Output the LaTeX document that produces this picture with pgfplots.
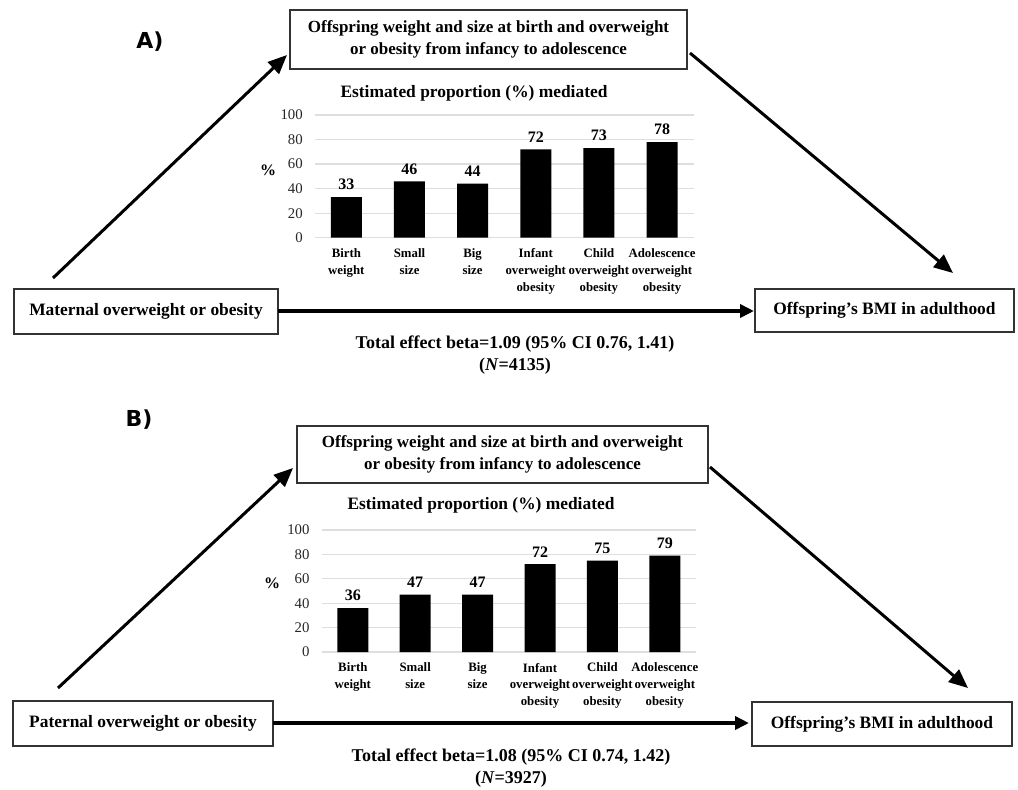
\documentclass[border=0pt]{standalone}
\usepackage{fontspec}
\setmainfont{Liberation Serif}
\newfontfamily\panelfont{DejaVu Sans}
\usepackage{pgfplots}
\pgfplotsset{compat=1.18}
\usetikzlibrary{arrows.meta}
\newcommand{\fs}[2]{\fontsize{#1}{#2}\selectfont}
\pgfplotsset{medchart/.style={
  scale only axis, anchor=south west,
  ymin=0, ymax=100, ytick={0,20,...,100},
  xmin=-0.5, xmax=5.5, xtick={0,...,5},
  xticklabels={{Birth\\weight},{Small\\size},{Big\\size},{Infant\\overweight\\obesity},{Child\\overweight\\obesity},{Adolescence\\overweight\\obesity}},
  axis line style={draw=none},
  ymajorgrids, grid style={draw=black!13, line width=0.6pt},
  major tick length=0pt,
  /pgf/number format/assume math mode=true,
  yticklabel style={font=\fs{7.4}{8}, text=black!85, xshift=-2.5pt},
  xticklabel style={font=\bfseries\fs{6.4}{8.4}, align=center, anchor=north, yshift=-2pt},
  ybar, bar width=15.5pt,
  nodes near coords, nodes near coords style={font=\bfseries\fs{8}{9}},
  clip=false,
}}
\begin{document}
\begin{tikzpicture}[x=0.5pt,y=-0.5pt]
\path[use as bounding box] (0,0) rectangle (1018,789);
% ---------------- Panel A ----------------
\node[font=\panelfont\bfseries\fs{11}{13}] at (150,42) {A)};
\draw[line width=0.8pt, black!80] (290,10) rectangle (687,69);
\node[font=\bfseries\fs{8.5}{11}, align=center] at (488.5,39.5) {Offspring weight and size at birth and overweight\\or obesity from infancy to adolescence};
\draw[line width=1.5pt, -{Triangle[length=9.5pt,width=8pt]}] (53,278) -- (287,55);
\draw[line width=1.5pt, -{Triangle[length=9.5pt,width=8pt]}] (690,53) -- (953,273);
\draw[line width=0.8pt, black!80] (14,289) rectangle (278,334);
\node[font=\bfseries\fs{8.7}{10}] at (146,311.5) {Maternal overweight or obesity};
\draw[line width=0.8pt, black!80] (755,289) rectangle (1014,332);
\node[font=\bfseries\fs{8.7}{10}] at (884.5,310.5) {Offspring’s BMI in adulthood};
\draw[line width=2.2pt, -{Triangle[length=7pt,width=6.5pt]}] (278,311) -- (754,311);
\node[font=\bfseries\fs{9}{11}] at (515,344) {Total effect beta=1.09 (95\% CI 0.76, 1.41)};
\node[font=\bfseries\fs{9}{11}] at (515,366) {(\textit{N}=4135)};
\node[font=\bfseries\fs{8.7}{10}] at (474,93) {Estimated proportion (\%) mediated};
\node[font=\bfseries\fs{8}{10}] at (268,170) {\%};
\begin{axis}[medchart, at={(157.4pt,-118.85pt)}, width=189.4pt, height=61.35pt]
\addplot[fill=black, draw=none] coordinates {(0,33) (1,46) (2,44) (3,72) (4,73) (5,78)};
\end{axis}
% ---------------- Panel B ----------------
\node[font=\panelfont\bfseries\fs{11}{13}] at (139,420) {B)};
\draw[line width=0.8pt, black!80] (297,426) rectangle (708,483);
\node[font=\bfseries\fs{8.5}{11}, align=center] at (502.5,454.5) {Offspring weight and size at birth and overweight\\or obesity from infancy to adolescence};
\draw[line width=1.5pt, -{Triangle[length=9.5pt,width=8pt]}] (58,688) -- (293,468);
\draw[line width=1.5pt, -{Triangle[length=9.5pt,width=8pt]}] (710,467) -- (968,688);
\draw[line width=0.8pt, black!80] (13,701) rectangle (273,746);
\node[font=\bfseries\fs{8.7}{10}] at (143,723.5) {Paternal overweight or obesity};
\draw[line width=0.8pt, black!80] (752,702) rectangle (1012,746);
\node[font=\bfseries\fs{8.7}{10}] at (882,724) {Offspring’s BMI in adulthood};
\draw[line width=2.2pt, -{Triangle[length=7pt,width=6.5pt]}] (273,723) -- (749,723);
\node[font=\bfseries\fs{9}{11}] at (511,757) {Total effect beta=1.08 (95\% CI 0.74, 1.42)};
\node[font=\bfseries\fs{9}{11}] at (511,779) {(\textit{N}=3927)};
\node[font=\bfseries\fs{8.7}{10}] at (481,505) {Estimated proportion (\%) mediated};
\node[font=\bfseries\fs{8}{10}] at (272,583) {\%};
\begin{axis}[medchart, at={(160.8pt,-326pt)}, width=187.2pt, height=61pt]
\addplot[fill=black, draw=none] coordinates {(0,36) (1,47) (2,47) (3,72) (4,75) (5,79)};
\end{axis}
\end{tikzpicture}
\end{document}
